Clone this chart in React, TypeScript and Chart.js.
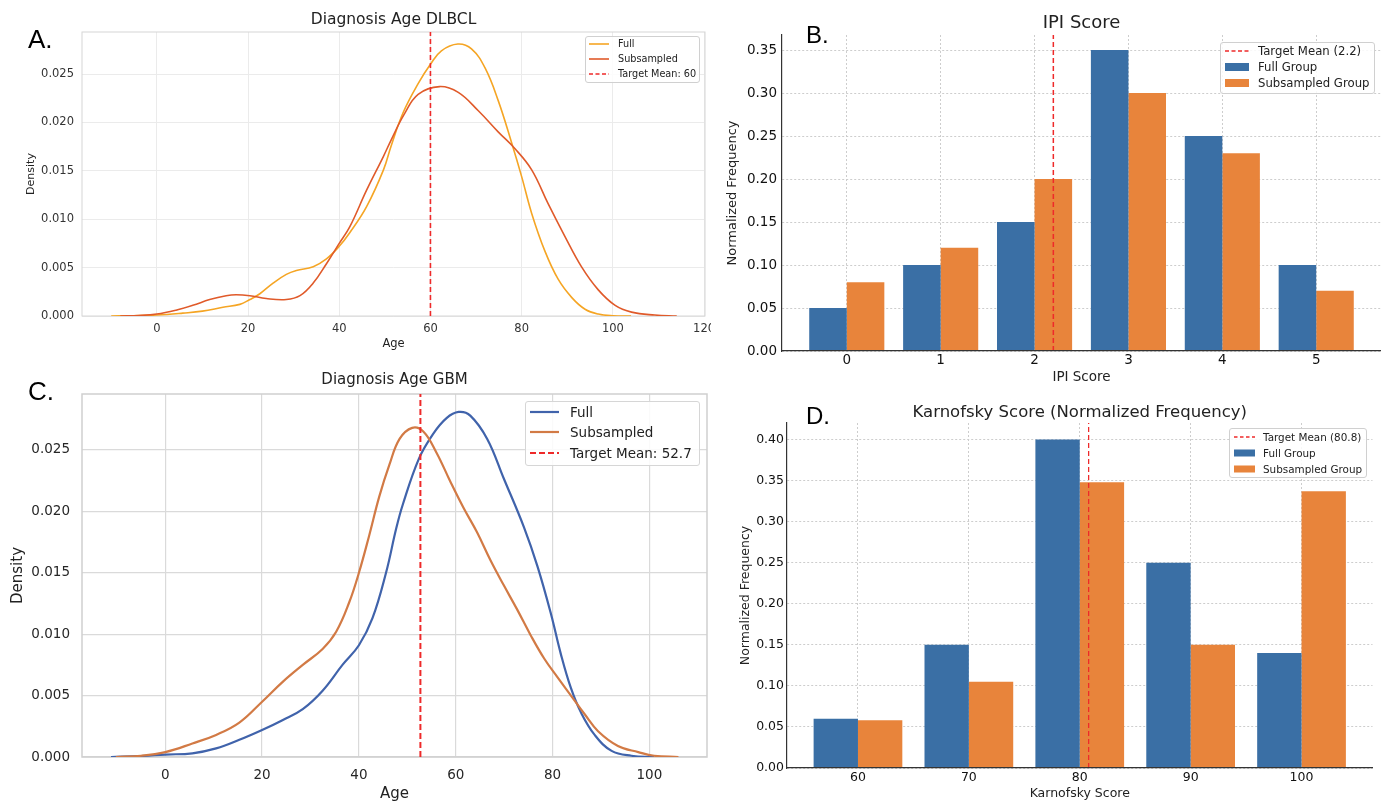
import React, { useEffect, useRef } from 'react';
import { Chart, registerables } from 'chart.js';

Chart.register(...registerables);

const FAMILY = "'DejaVu Sans', 'Noto Sans', sans-serif";
Chart.defaults.font.family = FAMILY;

// ---------- Panel A: Diagnosis Age DLBCL (density curves) ----------
const dlbclFullAge = [-10, -5, 0, 5.7, 10, 14.5, 18.2, 20.4, 22.6, 25.5, 28.4, 30.6, 34.3, 37.2, 40, 42.3, 46, 49.7, 51.4, 54, 57.3, 60, 62.4, 66, 69, 72, 74.9, 77.8, 80, 82.2, 85.1, 88, 91, 93.9, 96.8, 100, 104];
const dlbclFullDensity = [0, 0.00003, 0.0001, 0.0003, 0.0005, 0.0009, 0.0012, 0.0017, 0.0023, 0.0034, 0.0043, 0.0047, 0.0051, 0.0059, 0.0072, 0.0086, 0.0113, 0.0151, 0.0176, 0.021, 0.024, 0.026, 0.0274, 0.0281, 0.0276, 0.0256, 0.0222, 0.0179, 0.0144, 0.0106, 0.0067, 0.0038, 0.0019, 0.0007, 0.0002, 0.00003, 0];
const dlbclSubAge = [-8, -4, 0, 4.2, 7.9, 11.6, 15.2, 17.4, 20.4, 24, 28.4, 31.4, 34.3, 37.2, 40, 42.3, 46, 49.7, 51.4, 54.2, 57.3, 62, 66.1, 70.5, 74.9, 78.5, 82.2, 85.8, 89.5, 93.1, 96.8, 100.5, 104.1, 109.2, 114];
const dlbclSubDensity = [0, 0.00005, 0.0002, 0.0006, 0.0011, 0.0017, 0.0021, 0.0022, 0.0021, 0.0018, 0.0017, 0.0021, 0.0034, 0.0054, 0.0075, 0.0092, 0.013, 0.0165, 0.0182, 0.0208, 0.0229, 0.0237, 0.0231, 0.0212, 0.019, 0.0173, 0.0151, 0.0116, 0.0082, 0.0051, 0.0027, 0.0011, 0.0004, 0.0001, 0];
const dlbclTargetMean = 60;

// ---------- Panel C: Diagnosis Age GBM (density curves) ----------
const gbmFullAge = [-11.2, -5, 0, 5.6, 10.5, 15.3, 20, 24.2, 28.4, 32.5, 36.6, 40, 42.8, 45.6, 47.7, 49.1, 52.4, 55.3, 58.1, 60.6, 63, 66.5, 69.9, 74.1, 76.9, 79.7, 81.7, 83.8, 85.9, 88.7, 92.2, 96.3, 101];
const gbmFullDensity = [0, 0.00008, 0.0002, 0.0003, 0.0007, 0.0014, 0.0022, 0.003, 0.0039, 0.0054, 0.0075, 0.0091, 0.0113, 0.015, 0.0186, 0.0206, 0.0243, 0.0263, 0.0276, 0.0281, 0.0278, 0.0259, 0.0227, 0.0187, 0.0155, 0.0116, 0.0084, 0.0056, 0.0036, 0.0018, 0.0005, 0.0001, 0];
const gbmSubAge = [-10.2, -5, 0, 5.6, 10.5, 15.3, 20, 24.2, 28.4, 32.5, 35.3, 38, 40, 42.1, 44.2, 46.3, 48.4, 51, 53.3, 56, 58.8, 61.6, 64.4, 67.2, 69.9, 72.7, 75.5, 78.3, 81, 83.8, 86.6, 89.4, 93.5, 97.7, 101, 106];
const gbmSubDensity = [0, 0.0001, 0.0004, 0.0011, 0.0018, 0.0028, 0.0045, 0.0061, 0.0075, 0.0088, 0.0102, 0.0126, 0.015, 0.018, 0.0212, 0.0238, 0.0259, 0.0268, 0.0265, 0.0248, 0.0225, 0.0203, 0.0183, 0.016, 0.014, 0.012, 0.0099, 0.008, 0.0065, 0.005, 0.0035, 0.0021, 0.0009, 0.0004, 0.0001, 0];
const gbmTargetMean = 52.7;

// ---------- Panel B: IPI Score ----------
const ipiScores = [0, 1, 2, 3, 4, 5];
const ipiFullFreq = [0.05, 0.1, 0.15, 0.35, 0.25, 0.1];
const ipiSubFreq = [0.08, 0.12, 0.2, 0.3, 0.23, 0.07];
const ipiTargetMean = 2.2;

// ---------- Panel D: Karnofsky Score ----------
const kpsScores = [60, 70, 80, 90, 100];
const kpsFullFreq = [0.06, 0.15, 0.4, 0.25, 0.14];
const kpsSubFreq = [0.058, 0.105, 0.348, 0.15, 0.337];
const kpsTargetMean = 80.8;

const curveLabels = ['Full', 'Subsampled'];
const groupLabels = ['Full Group', 'Subsampled Group'];

// colours
const A_FULL = '#f5a524';
const A_SUB = '#e05a2a';
const C_FULL = '#4063ab';
const C_SUB = '#d27a45';
const BAR_FULL = '#3a6fa5';
const BAR_SUB = '#e8843b';
const RED = '#ee2a2a';

const zip = (xs: number[], ys: number[]) => xs.map((x, i) => ({ x, y: ys[i] }));

function framePlugin(color: string, width: number) {
  return {
    id: 'frame',
    beforeDatasetsDraw(chart: any) {
      const { ctx, chartArea: a } = chart;
      ctx.save();
      ctx.strokeStyle = color;
      ctx.lineWidth = width;
      ctx.strokeRect(a.left, a.top, a.right - a.left, a.bottom - a.top);
      ctx.restore();
    },
  };
}

function axis(o: any) {
  return {
    type: 'linear',
    min: o.min,
    max: o.max,
    offset: false,
    ticks: {
      stepSize: o.step,
      includeBounds: false,
      autoSkip: false,
      maxRotation: 0,
      padding: o.tickPad,
      color: o.tickColor || '#262626',
      font: { family: FAMILY, size: o.tickSize, lineHeight: 1.2 },
      callback: (v: any) => o.fmt(Number(v)),
    },
    grid: { color: o.gridColor, lineWidth: o.gridWidth, drawTicks: false, offset: false },
    border: o.border
      ? { display: true, color: o.border.color, width: o.border.width, dash: o.gridDash || [], z: 1 }
      : { display: false, dash: o.gridDash || [] },
    title: {
      display: true,
      text: o.title,
      color: '#222',
      font: { family: FAMILY, size: o.titleSize, lineHeight: 1.2 },
      padding: o.titlePad,
    },
    afterFit: (s: any) => {
      if (o.horizontal) s.height = o.size;
      else s.width = o.size;
      s.paddingTop = 0;
      s.paddingBottom = 0;
      s.paddingLeft = 0;
      s.paddingRight = 0;
    },
  };
}

function titleOpts(text: string, size: number, top: number, bottom: number) {
  return {
    display: true,
    text,
    fullSize: false,
    color: '#222',
    font: { family: FAMILY, size, weight: 'normal', lineHeight: 1.2 },
    padding: { top, bottom },
  };
}

function densityConfig(p: any) {
  return {
    type: 'line',
    data: {
      datasets: [
        {
          label: p.meanLabel,
          data: [{ x: p.mean, y: 0 }, { x: p.mean, y: 1 }],
          borderColor: RED,
          borderWidth: p.meanWidth,
          borderDash: p.meanDash,
          pointRadius: 0,
          tension: 0,
          order: 0,
        },
        {
          label: curveLabels[0],
          data: zip(p.fullX, p.fullY),
          borderColor: p.fullColor,
          borderWidth: p.lineWidth,
          pointRadius: 0,
          tension: 0.4,
          order: 2,
        },
        {
          label: curveLabels[1],
          data: zip(p.subX, p.subY),
          borderColor: p.subColor,
          borderWidth: p.lineWidth,
          pointRadius: 0,
          tension: 0.4,
          order: 1,
        },
      ],
    },
    options: {
      responsive: false,
      animation: false,
      devicePixelRatio: 1,
      events: [],
      layout: { padding: { left: 0, right: p.padRight, top: 0, bottom: 0 } },
      plugins: {
        legend: { display: false },
        tooltip: { enabled: false },
        title: titleOpts(p.title, p.titleSize, p.titleTop, p.titleBottom),
      },
      scales: {
        x: axis({ ...p.x, horizontal: true }),
        y: axis({ ...p.y, horizontal: false }),
      },
    },
    plugins: [framePlugin(p.frameColor, p.frameWidth)],
  };
}

function barConfig(p: any) {
  return {
    type: 'bar',
    data: {
      datasets: [
        {
          type: 'line',
          label: p.meanLabel,
          data: [{ x: p.mean, y: 0 }, { x: p.mean, y: 1 }],
          borderColor: RED,
          borderWidth: p.meanWidth,
          borderDash: p.meanDash,
          pointRadius: 0,
          order: 0,
        },
        {
          type: 'bar',
          label: groupLabels[0],
          data: zip(p.cats, p.full),
          backgroundColor: BAR_FULL,
          borderWidth: 0,
          barPercentage: 1,
          categoryPercentage: 0.8,
          order: 1,
        },
        {
          type: 'bar',
          label: groupLabels[1],
          data: zip(p.cats, p.sub),
          backgroundColor: BAR_SUB,
          borderWidth: 0,
          barPercentage: 1,
          categoryPercentage: 0.8,
          order: 2,
        },
      ],
    },
    options: {
      responsive: false,
      animation: false,
      devicePixelRatio: 1,
      events: [],
      layout: { padding: { left: 0, right: p.padRight, top: 0, bottom: 0 } },
      plugins: {
        legend: { display: false },
        tooltip: { enabled: false },
        title: titleOpts(p.title, p.titleSize, p.titleTop, p.titleBottom),
      },
      scales: {
        x: axis({ ...p.x, horizontal: true }),
        y: axis({ ...p.y, horizontal: false }),
      },
    },
  };
}

const fmt0 = (v: number) => String(Math.round(v));
const fmt2 = (v: number) => v.toFixed(2);
const fmt3 = (v: number) => v.toFixed(3);

const barGrid = { gridColor: '#cdcdcd', gridWidth: 1, gridDash: [2, 2], border: { color: '#333', width: 1.2 }, tickColor: '#111' };

const configA = () =>
  densityConfig({
    title: 'Diagnosis Age DLBCL', titleSize: 15.5, titleTop: 10.7, titleBottom: 2.7,
    padRight: 6,
    mean: dlbclTargetMean, meanLabel: `Target Mean: ${dlbclTargetMean}`, meanWidth: 1.6, meanDash: [5, 3],
    fullX: dlbclFullAge, fullY: dlbclFullDensity, subX: dlbclSubAge, subY: dlbclSubDensity,
    fullColor: A_FULL, subColor: A_SUB, lineWidth: 1.6,
    frameColor: '#d6d6d6', frameWidth: 1,
    x: { min: -16.4, max: 120.2, step: 20, fmt: fmt0, tickSize: 11.5, tickPad: 6, tickColor: '#333', gridColor: '#ebebeb', gridWidth: 1, title: 'Age', titleSize: 11.5, titlePad: { top: 0, bottom: 9.1 }, size: 44 },
    y: { min: 0, max: 0.02934, step: 0.005, fmt: fmt3, tickSize: 11.5, tickPad: 8, tickColor: '#333', gridColor: '#ebebeb', gridWidth: 1, title: 'Density', titleSize: 11, titlePad: { top: 24.7, bottom: 0 }, size: 82 },
  });

const configC = () =>
  densityConfig({
    title: 'Diagnosis Age GBM', titleSize: 15, titleTop: 9, titleBottom: 5,
    padRight: 4,
    mean: gbmTargetMean, meanLabel: `Target Mean: ${gbmTargetMean}`, meanWidth: 2, meanDash: [6, 3],
    fullX: gbmFullAge, fullY: gbmFullDensity, subX: gbmSubAge, subY: gbmSubDensity,
    fullColor: C_FULL, subColor: C_SUB, lineWidth: 2.2,
    frameColor: '#cfcfcf', frameWidth: 1.5,
    x: { min: -17.2, max: 111.9, step: 20, fmt: fmt0, tickSize: 13.5, tickPad: 10, tickColor: '#262626', gridColor: '#dadada', gridWidth: 1.2, title: 'Age', titleSize: 15, titlePad: { top: 0, bottom: 0.7 }, size: 47 },
    y: { min: 0, max: 0.02956, step: 0.005, fmt: fmt3, tickSize: 13.5, tickPad: 12, tickColor: '#262626', gridColor: '#dadada', gridWidth: 1.2, title: 'Density', titleSize: 15, titlePad: { top: 9.4, bottom: 0 }, size: 82 },
  });

const configB = () =>
  barConfig({
    title: 'IPI Score', titleSize: 18, titleTop: 12.5, titleBottom: 0.9,
    padRight: 0,
    mean: ipiTargetMean, meanLabel: `Target Mean (${ipiTargetMean})`, meanWidth: 1.5, meanDash: [5, 3],
    cats: ipiScores, full: ipiFullFreq, sub: ipiSubFreq,
    x: { ...barGrid, min: -0.69, max: 5.69, step: 1, fmt: fmt0, tickSize: 13.5, tickPad: 1, title: 'IPI Score', titleSize: 13.5, titlePad: { top: 0, bottom: 6.9 }, size: 41 },
    y: { ...barGrid, min: 0, max: 0.3675, step: 0.05, fmt: fmt2, tickSize: 13.5, tickPad: 5, title: 'Normalized Frequency', titleSize: 13, titlePad: { top: 14, bottom: 0 }, size: 71 },
  });

const configD = () =>
  barConfig({
    title: 'Karnofsky Score (Normalized Frequency)', titleSize: 16.5, titleTop: 9.4, titleBottom: 0.8,
    padRight: 8.5,
    mean: kpsTargetMean, meanLabel: `Target Mean (${kpsTargetMean})`, meanWidth: 1.3, meanDash: [5, 3],
    cats: kpsScores, full: kpsFullFreq, sub: kpsSubFreq,
    x: { ...barGrid, min: 53.6, max: 106.4, step: 10, fmt: fmt0, tickSize: 12.5, tickPad: 2, title: 'Karnofsky Score', titleSize: 12.5, titlePad: { top: 0, bottom: 2.5 }, size: 36 },
    y: { ...barGrid, min: 0, max: 0.42, step: 0.05, fmt: fmt2, tickSize: 12.5, tickPad: 3, title: 'Normalized Frequency', titleSize: 12.5, titlePad: { top: 27.4, bottom: 0 }, size: 76 },
  });

function ChartBox({ left, top, width, height, make }: any) {
  const ref = useRef<HTMLCanvasElement | null>(null);
  useEffect(() => {
    if (!ref.current) return;
    const chart = new Chart(ref.current, make() as any);
    return () => chart.destroy();
  }, []);
  return (
    <canvas
      ref={ref}
      width={width}
      height={height}
      style={{ position: 'absolute', left, top, width, height }}
    />
  );
}

type Entry = { label: string; color: string; kind: 'line' | 'dash' | 'patch'; lw?: number; dash?: number[] };

function Legend({ left, top, width, height, rows, swatchX, swatchW, patchH, textX, fontSize, entries, border }: any) {
  return (
    <div
      style={{
        position: 'absolute', left, top, width, height, boxSizing: 'border-box',
        border: `1px solid ${border}`, borderRadius: 3, background: 'rgba(255,255,255,0.85)',
      }}
    >
      {entries.map((e: Entry, i: number) => {
        const cy = rows[i] - top - 1;
        return (
          <React.Fragment key={i}>
            <svg
              width={swatchW}
              height={14}
              style={{ position: 'absolute', left: swatchX - left - 1, top: cy - 7 }}
            >
              {e.kind === 'patch' ? (
                <rect x={0} y={7 - patchH / 2} width={swatchW} height={patchH} fill={e.color} />
              ) : (
                <line
                  x1={0} y1={7} x2={swatchW} y2={7}
                  stroke={e.color} strokeWidth={e.lw || 1.5}
                  strokeDasharray={e.kind === 'dash' ? (e.dash || [5, 3]).join(' ') : undefined}
                />
              )}
            </svg>
            <span
              style={{
                position: 'absolute', left: textX - left - 1, top: cy - fontSize * 0.6,
                fontFamily: FAMILY, fontSize, lineHeight: `${fontSize * 1.2}px`,
                whiteSpace: 'nowrap', color: '#222',
              }}
            >
              {e.label}
            </span>
          </React.Fragment>
        );
      })}
    </div>
  );
}

function Letter({ text, left, top, size }: any) {
  return (
    <div
      style={{
        position: 'absolute', left, top, fontFamily: "'Liberation Sans', Arial, sans-serif",
        fontSize: size, lineHeight: 1, color: '#000',
      }}
    >
      {text}
    </div>
  );
}

export default function App() {
  return (
    <div
      style={{
        position: 'absolute', left: 0, top: 0, width: 1381, height: 804,
        background: '#fff', overflow: 'hidden',
      }}
    >
      <ChartBox left={0} top={0} width={711} height={360} make={configA} />
      <ChartBox left={0} top={362} width={711} height={442} make={configC} />
      <ChartBox left={711} top={0} width={670} height={392} make={configB} />
      <ChartBox left={711} top={393} width={670} height={411} make={configD} />

      <Legend
        left={585} top={36} width={115} height={47} rows={[44, 59, 74]}
        swatchX={589} swatchW={20} patchH={0} textX={618} fontSize={9.7} border="#d0d0d0"
        entries={[
          { label: curveLabels[0], color: A_FULL, kind: 'line', lw: 1.6 },
          { label: curveLabels[1], color: A_SUB, kind: 'line', lw: 1.6 },
          { label: `Target Mean: ${dlbclTargetMean}`, color: RED, kind: 'dash', lw: 1.6, dash: [4, 2.5] },
        ]}
      />
      <Legend
        left={525} top={401} width={175} height={65} rows={[412, 432, 453]}
        swatchX={530} swatchW={29} patchH={0} textX={570} fontSize={13.5} border="#d6d6d6"
        entries={[
          { label: curveLabels[0], color: C_FULL, kind: 'line', lw: 2.2 },
          { label: curveLabels[1], color: C_SUB, kind: 'line', lw: 2.2 },
          { label: `Target Mean: ${gbmTargetMean}`, color: RED, kind: 'dash', lw: 2, dash: [6, 3] },
        ]}
      />
      <Legend
        left={1220} top={42} width={155} height={52} rows={[51, 67, 83]}
        swatchX={1225} swatchW={24} patchH={8} textX={1258} fontSize={11.7} border="#d0d0d0"
        entries={[
          { label: `Target Mean (${ipiTargetMean})`, color: RED, kind: 'dash', lw: 1.5, dash: [4, 2.5] },
          { label: groupLabels[0], color: BAR_FULL, kind: 'patch' },
          { label: groupLabels[1], color: BAR_SUB, kind: 'patch' },
        ]}
      />
      <Legend
        left={1229} top={428} width={138} height={50} rows={[437, 453, 469]}
        swatchX={1234} swatchW={21} patchH={7} textX={1263} fontSize={10.4} border="#d0d0d0"
        entries={[
          { label: `Target Mean (${kpsTargetMean})`, color: RED, kind: 'dash', lw: 1.3, dash: [3.5, 2.5] },
          { label: groupLabels[0], color: BAR_FULL, kind: 'patch' },
          { label: groupLabels[1], color: BAR_SUB, kind: 'patch' },
        ]}
      />

      <Letter text="A." left={28} top={25.5} size={26} />
      <Letter text="C." left={28} top={377.5} size={26} />
      <Letter text="B." left={806} top={22.5} size={24} />
      <Letter text="D." left={806} top={404} size={24} />
    </div>
  );
}
